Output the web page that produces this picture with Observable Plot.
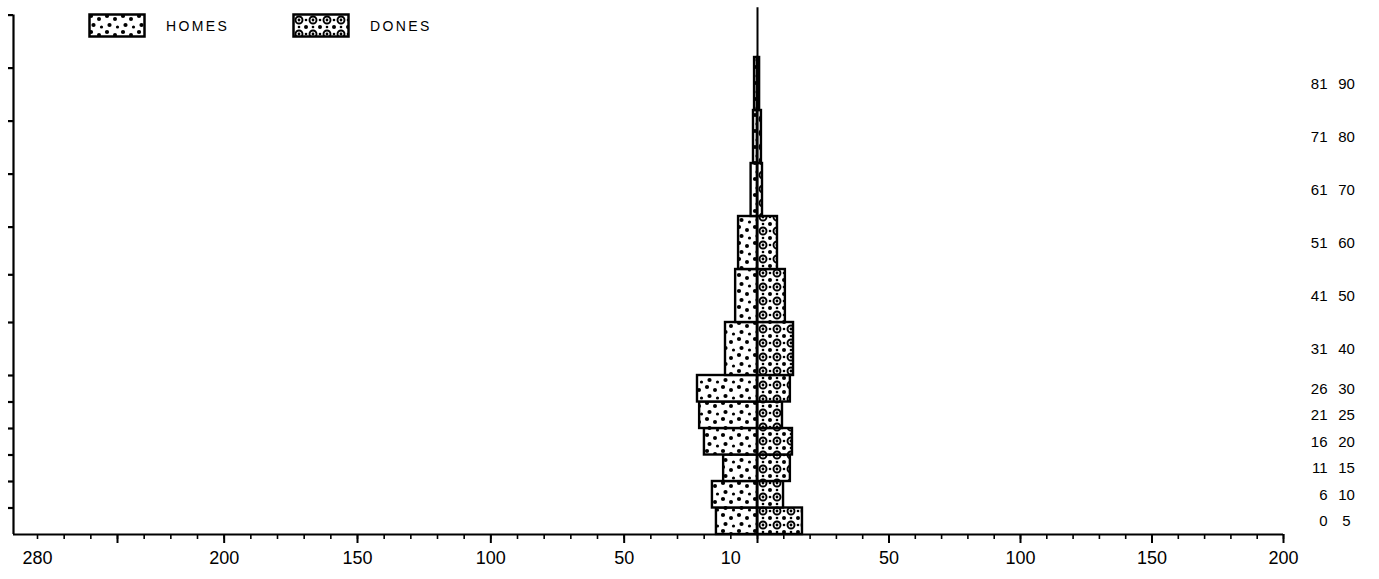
<!DOCTYPE html>
<html>
<head>
<meta charset="utf-8">
<script src="https://cdn.jsdelivr.net/npm/d3@7"></script>
<script src="https://cdn.jsdelivr.net/npm/@observablehq/plot@0.6"></script>
<style>
  body { margin: 0; background: #fff; }
  #wrap { position: relative; width: 1379px; height: 579px; }
  .leg { position: absolute; top: 13px; display: flex; align-items: center; font-family: "Liberation Sans", Arial, sans-serif; font-size: 14px; letter-spacing: 2.4px; color: #000; }
  .leg svg { margin-right: 20px; }
</style>
</head>
<body>
<svg width="0" height="0" style="position:absolute">
  <defs>
    <pattern id="homes" width="16" height="16" patternUnits="userSpaceOnUse">
      <rect width="16" height="16" fill="white"/>
      <circle cx="3" cy="3" r="2.1"/>
      <circle cx="11" cy="6" r="2"/>
      <circle cx="5.5" cy="12" r="2.1"/>
      <circle cx="13.5" cy="14" r="1.6"/>
    </pattern>
    <pattern id="dones" width="14" height="14" patternUnits="userSpaceOnUse">
      <rect width="14" height="14" fill="white"/>
      <circle cx="7" cy="7" r="3.5" fill="none" stroke="black" stroke-width="1.9"/>
      <circle cx="7" cy="7" r="1.4"/>
      <circle cx="0" cy="0" r="2"/><circle cx="14" cy="0" r="2"/>
      <circle cx="0" cy="14" r="2"/><circle cx="14" cy="14" r="2"/>
      <circle cx="7" cy="0" r="1.3"/><circle cx="7" cy="14" r="1.3"/>
      <circle cx="0" cy="7" r="1.3"/><circle cx="14" cy="7" r="1.3"/>
    </pattern>
  </defs>
</svg>
<div id="wrap">
  <div class="leg" style="left:88px"><svg width="58" height="25"><rect x="1.5" y="1.5" width="55" height="22" fill="url(#homes)" stroke="black" stroke-width="2.5"/></svg><span>HOMES</span></div>
  <div class="leg" style="left:292px"><svg width="58" height="25"><rect x="1.5" y="1.5" width="55" height="22" fill="url(#dones)" stroke="black" stroke-width="2.5"/></svg><span>DONES</span></div>
</div>
<script>
// Age groups
const ageFrom = [0, 6, 11, 16, 21, 26, 31, 41, 51, 61, 71, 81];
const ageTo   = [5, 10, 15, 20, 25, 30, 40, 50, 60, 70, 80, 90];
const ageLow  = [0, 5, 10, 15, 20, 25, 30, 40, 50, 60, 70, 80];
// Series
const homes = [15.4, 16.9, 12.7, 19.9, 21.7, 22.5, 12.0, 8.2, 7.1, 2.4, 1.5, 1.1];
const dones = [17.1, 9.9, 12.5, 13.3, 9.5, 12.5, 13.7, 10.6, 7.6, 1.9, 1.5, 0.8];
// Axis ticks
const xMinorTicks = d3.range(-270, 201, 10);
const xMajorTicks = [-240, -200, -150, -100, -50, 0, 50, 100, 150, 200];
const xLabelValues = [-270, -200, -150, -100, -50, -10, 50, 100, 150, 200];
const xLabelTexts  = ["280", "200", "150", "100", "50", "10", "50", "100", "150", "200"];
const yLeftTicks = [5, 10, 15, 20, 25, 30, 40, 49, 58, 68, 78, 88, 98];
const xDomain = [-279, 0, 200];
const yTop = 98;
const centerTop = 99.4;

const rows = ageFrom.map((f, i) => ({
  from: f, to: ageTo[i], low: ageLow[i], high: ageTo[i],
  mid: (ageLow[i] + ageTo[i]) / 2, homes: homes[i], dones: dones[i]
}));

const labelMap = new Map(xLabelValues.map((v, i) => [v, xLabelTexts[i]]));

const chart = Plot.plot({
  width: 1379,
  height: 579,
  marginLeft: 13,
  marginRight: 96,
  marginTop: 4,
  marginBottom: 45,
  x: {type: "linear", domain: xDomain, range: [13, 757, 1283]},
  y: {type: "linear", domain: [0, 100]},
  style: {fontFamily: "Liberation Sans, Arial, sans-serif", color: "black", background: "transparent"},
  marks: [
    Plot.rect(rows, {x1: d => -d.homes, x2: 0, y1: "low", y2: "high", fill: "url(#homes)", stroke: "black", strokeWidth: 2.4}),
    Plot.rect(rows, {x1: 0, x2: "dones", y1: "low", y2: "high", fill: "url(#dones)", stroke: "black", strokeWidth: 2.4}),
    Plot.ruleX([0], {y1: 0, y2: centerTop, strokeWidth: 2}),
    Plot.ruleY([0], {strokeWidth: 2.2}),
    Plot.ruleX([xDomain[0]], {y1: 0, y2: yTop, strokeWidth: 2.2}),
    Plot.axisY({anchor: "left", ticks: yLeftTicks, tickSize: 5, tickFormat: () => "", strokeWidth: 2.2, label: null}),
    Plot.axisX({anchor: "bottom", ticks: xMinorTicks, tickSize: 5, tickFormat: () => "", strokeWidth: 1.6, label: null}),
    Plot.axisX({anchor: "bottom", ticks: xMajorTicks, tickSize: 9, tickFormat: () => "", strokeWidth: 2, label: null}),
    Plot.axisX({anchor: "bottom", ticks: xLabelValues, tickSize: 0, tickPadding: 17, tickFormat: v => labelMap.get(v), fontSize: 18, label: null}),
    Plot.text(rows, {y: "mid", text: d => String(d.from), frameAnchor: "right", dx: 44, textAnchor: "end", fontSize: 15}),
    Plot.text(rows, {y: "mid", text: d => String(d.to), frameAnchor: "right", dx: 63, textAnchor: "middle", fontSize: 15})
  ]
});
document.getElementById("wrap").prepend(chart);
</script>
</body>
</html>
